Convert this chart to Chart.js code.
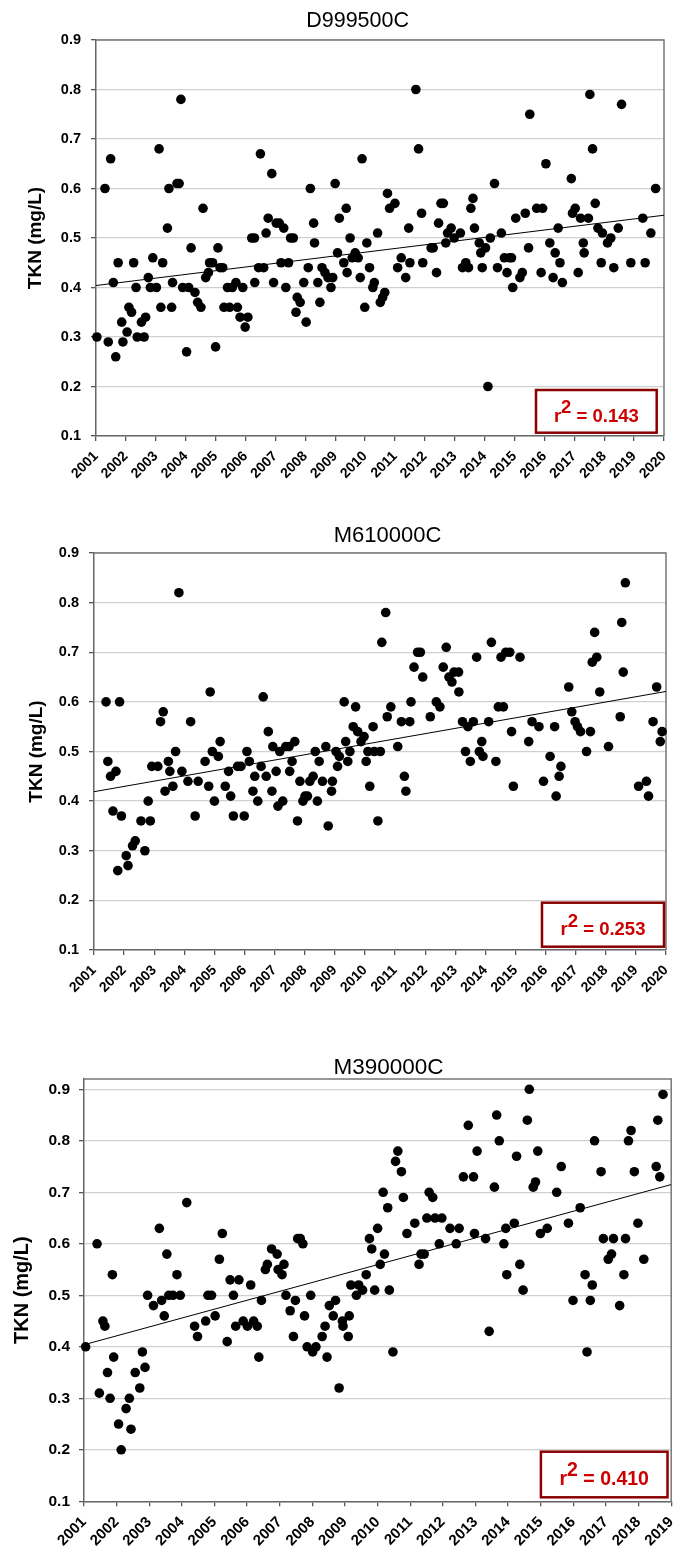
<!DOCTYPE html>
<html>
<head>
<meta charset="utf-8">
<title>TKN trends</title>
<script src="https://cdn.jsdelivr.net/npm/chart.js@4.4.0/dist/chart.umd.min.js"></script>
<style>
    html, body { margin: 0; padding: 0; background: #fff; }
    #page { position: relative; width: 676px; height: 1558px; overflow: hidden; }
    canvas { position: absolute; left: 0; }
</style>
</head>
<body>
<div id="page">
    <canvas id="chartD999" width="676" height="510" style="top:0px"></canvas>
    <canvas id="chartM610" width="676" height="530" style="top:510px"></canvas>
    <canvas id="chartM390" width="676" height="518" style="top:1040px"></canvas>
</div>
<script>
// ===========================
// DATA (decimal year, TKN mg/L)
// ===========================

const tknTicks = [0.1, 0.2, 0.3, 0.4, 0.5, 0.6, 0.7, 0.8, 0.9];
const yearTicks2020 = [2001, 2002, 2003, 2004, 2005, 2006, 2007, 2008, 2009, 2010,
    2011, 2012, 2013, 2014, 2015, 2016, 2017, 2018, 2019, 2020];
const yearTicks2019 = [2001, 2002, 2003, 2004, 2005, 2006, 2007, 2008, 2009, 2010,
    2011, 2012, 2013, 2014, 2015, 2016, 2017, 2018, 2019];

// D999500C
const d999Years = [2001.03, 2001.30, 2001.41, 2001.49, 2001.58, 2001.66, 2001.74, 2001.86, 2001.90,
    2002.04, 2002.10, 2002.19, 2002.26, 2002.34, 2002.38, 2002.52, 2002.61, 2002.66, 2002.75, 2002.82, 2002.90,
    2003.02, 2003.11, 2003.17, 2003.23, 2003.39, 2003.44, 2003.53, 2003.56, 2003.71, 2003.78, 2003.84, 2003.90,
    2004.03, 2004.10, 2004.18, 2004.31, 2004.40, 2004.51, 2004.58, 2004.67, 2004.76, 2004.80, 2004.90,
    2005.00, 2005.08, 2005.15, 2005.24, 2005.28, 2005.40, 2005.47, 2005.56, 2005.68, 2005.73, 2005.82, 2005.91, 2005.99,
    2006.08, 2006.21, 2006.30, 2006.31, 2006.44, 2006.50, 2006.61, 2006.69, 2006.76, 2006.88, 2006.94,
    2007.03, 2007.13, 2007.19, 2007.28, 2007.35, 2007.44, 2007.51, 2007.60, 2007.69, 2007.73, 2007.83, 2007.95,
    2008.03, 2008.10, 2008.17, 2008.28, 2008.31, 2008.42, 2008.49, 2008.56, 2008.66, 2008.76, 2008.86, 2008.92,
    2009.00, 2009.08, 2009.14, 2009.29, 2009.37, 2009.40, 2009.50, 2009.57, 2009.67, 2009.77, 2009.84, 2009.90, 2009.99,
    2010.06, 2010.15, 2010.26, 2010.31, 2010.42, 2010.51, 2010.59, 2010.66, 2010.75, 2010.82,
    2011.00, 2011.09, 2011.21, 2011.36, 2011.46, 2011.50, 2011.70, 2011.79, 2011.89, 2011.93,
    2012.21, 2012.28, 2012.39, 2012.46, 2012.54, 2012.62, 2012.70, 2012.76, 2012.88, 2012.98,
    2013.19, 2013.26, 2013.37, 2013.46, 2013.54, 2013.61, 2013.66, 2013.82, 2013.87, 2013.92,
    2014.03, 2014.11, 2014.19, 2014.33, 2014.43, 2014.56, 2014.66, 2014.75, 2014.83, 2014.90, 2014.94,
    2015.04, 2015.18, 2015.26, 2015.36, 2015.47, 2015.51, 2015.74, 2015.89, 2015.94,
    2016.05, 2016.18, 2016.29, 2016.36, 2016.46, 2016.52, 2016.60, 2016.90, 2016.94,
    2017.03, 2017.13, 2017.21, 2017.30, 2017.33, 2017.47, 2017.52, 2017.61, 2017.70, 2017.79, 2017.90, 2017.94,
    2018.11, 2018.22, 2018.32, 2018.47, 2018.58, 2018.89,
    2019.29, 2019.37, 2019.56, 2019.72];
const d999Tkn = [0.30, 0.60, 0.29, 0.66, 0.41, 0.26, 0.45, 0.33, 0.29,
    0.31, 0.36, 0.35, 0.45, 0.40, 0.30, 0.33, 0.30, 0.34, 0.42, 0.40, 0.46,
    0.40, 0.68, 0.36, 0.45, 0.52, 0.60, 0.36, 0.41, 0.61, 0.61, 0.78, 0.40,
    0.27, 0.40, 0.48, 0.39, 0.37, 0.36, 0.56, 0.42, 0.43, 0.45, 0.45,
    0.28, 0.48, 0.44, 0.44, 0.36, 0.40, 0.36, 0.40, 0.41, 0.36, 0.34, 0.40, 0.32,
    0.34, 0.50, 0.50, 0.41, 0.44, 0.67, 0.44, 0.51, 0.54, 0.63, 0.41,
    0.53, 0.53, 0.45, 0.52, 0.40, 0.45, 0.50, 0.50, 0.35, 0.38, 0.37, 0.41,
    0.33, 0.44, 0.60, 0.53, 0.49, 0.41, 0.37, 0.44, 0.43, 0.42, 0.40, 0.42,
    0.61, 0.47, 0.54, 0.45, 0.56, 0.43, 0.50, 0.46, 0.47, 0.46, 0.42, 0.66, 0.36,
    0.49, 0.44, 0.40, 0.41, 0.51, 0.37, 0.38, 0.39, 0.59, 0.56,
    0.57, 0.44, 0.46, 0.42, 0.52, 0.45, 0.80, 0.68, 0.55, 0.45,
    0.48, 0.48, 0.43, 0.53, 0.57, 0.57, 0.49, 0.51, 0.52, 0.50,
    0.51, 0.44, 0.45, 0.44, 0.56, 0.58, 0.52, 0.49, 0.47, 0.44,
    0.48, 0.20, 0.50, 0.61, 0.44, 0.51, 0.46, 0.43, 0.46, 0.46, 0.40,
    0.54, 0.42, 0.43, 0.55, 0.48, 0.75, 0.56, 0.43, 0.56,
    0.65, 0.49, 0.42, 0.47, 0.52, 0.45, 0.41, 0.62, 0.55,
    0.56, 0.43, 0.54, 0.49, 0.47, 0.54, 0.79, 0.68, 0.57, 0.52, 0.45, 0.51,
    0.49, 0.50, 0.44, 0.52, 0.77, 0.45,
    0.54, 0.45, 0.51, 0.60];
const d999Trend = [0.404, 0.546];
const d999R2 = '0.143';

// M610000C
const m610Years = [2001.40, 2001.46, 2001.55, 2001.63, 2001.73, 2001.79, 2001.85, 2001.91,
    2002.07, 2002.13, 2002.28, 2002.37, 2002.56, 2002.69, 2002.80, 2002.87, 2002.92,
    2003.12, 2003.21, 2003.30, 2003.36, 2003.47, 2003.52, 2003.62, 2003.71, 2003.82, 2003.92,
    2004.12, 2004.21, 2004.36, 2004.46, 2004.69, 2004.81, 2004.86, 2004.93,
    2005.00, 2005.13, 2005.19, 2005.36, 2005.47, 2005.54, 2005.63, 2005.77, 2005.88, 2005.99,
    2006.08, 2006.16, 2006.28, 2006.34, 2006.44, 2006.55, 2006.62, 2006.72, 2006.79, 2006.91, 2006.94,
    2007.05, 2007.11, 2007.17, 2007.27, 2007.37, 2007.48, 2007.50, 2007.58, 2007.67, 2007.76, 2007.84, 2007.94,
    2008.01, 2008.09, 2008.17, 2008.28, 2008.35, 2008.42, 2008.48, 2008.59, 2008.70, 2008.78, 2008.89, 2008.92,
    2009.04, 2009.09, 2009.15, 2009.31, 2009.36, 2009.43, 2009.50, 2009.61, 2009.69, 2009.76, 2009.87, 2009.97,
    2010.04, 2010.10, 2010.16, 2010.27, 2010.31, 2010.43, 2010.51, 2010.56, 2010.69, 2010.74, 2010.86,
    2011.09, 2011.21, 2011.31, 2011.36, 2011.49, 2011.53, 2011.63, 2011.75, 2011.84, 2011.92,
    2012.17, 2012.37, 2012.49, 2012.60, 2012.70, 2012.79, 2012.89, 2012.96,
    2013.11, 2013.12, 2013.24, 2013.34, 2013.42, 2013.50, 2013.60, 2013.71, 2013.80, 2013.88, 2013.92,
    2014.11, 2014.20, 2014.35, 2014.43, 2014.52, 2014.60, 2014.68, 2014.81, 2014.87, 2014.93,
    2015.15, 2015.44, 2015.55, 2015.78, 2015.93,
    2016.15, 2016.30, 2016.35, 2016.45, 2016.51, 2016.77, 2016.87, 2016.98,
    2017.06, 2017.16, 2017.36, 2017.49, 2017.55, 2017.63, 2017.70, 2017.80,
    2018.09, 2018.48, 2018.53, 2018.58, 2018.65,
    2019.09, 2019.35, 2019.42, 2019.57, 2019.69, 2019.81, 2019.87];
const m610Tkn = [0.60, 0.48, 0.45, 0.38, 0.46, 0.26, 0.60, 0.37,
    0.29, 0.27, 0.31, 0.32, 0.36, 0.30, 0.40, 0.36, 0.47,
    0.47, 0.56, 0.58, 0.42, 0.48, 0.46, 0.43, 0.50, 0.82, 0.46,
    0.44, 0.56, 0.37, 0.44, 0.48, 0.43, 0.62, 0.50,
    0.40, 0.49, 0.52, 0.43, 0.46, 0.41, 0.37, 0.47, 0.47, 0.37,
    0.50, 0.48, 0.42, 0.45, 0.40, 0.47, 0.61, 0.45, 0.54, 0.42, 0.51,
    0.46, 0.39, 0.50, 0.40, 0.51, 0.51, 0.46, 0.48, 0.52, 0.36, 0.44, 0.40,
    0.41, 0.41, 0.44, 0.45, 0.50, 0.40, 0.48, 0.44, 0.51, 0.35, 0.42, 0.44,
    0.50, 0.47, 0.49, 0.60, 0.52, 0.48, 0.50, 0.55, 0.59, 0.54, 0.52, 0.53,
    0.48, 0.50, 0.43, 0.55, 0.50, 0.36, 0.50, 0.72, 0.78, 0.57, 0.59,
    0.51, 0.56, 0.45, 0.42, 0.56, 0.60, 0.67, 0.70, 0.70, 0.65,
    0.57, 0.60, 0.59, 0.67, 0.71, 0.65, 0.64, 0.66,
    0.66, 0.62, 0.56, 0.50, 0.55, 0.48, 0.56, 0.69, 0.50, 0.52, 0.49,
    0.56, 0.72, 0.48, 0.59, 0.69, 0.59, 0.70, 0.70, 0.54, 0.43,
    0.69, 0.52, 0.56, 0.55, 0.44,
    0.49, 0.55, 0.41, 0.45, 0.47, 0.63, 0.58, 0.56,
    0.55, 0.54, 0.50, 0.54, 0.68, 0.74, 0.69, 0.62,
    0.51, 0.57, 0.76, 0.66, 0.84,
    0.43, 0.44, 0.41, 0.56, 0.63, 0.52, 0.54];
const m610Trend = [0.419, 0.621];
const m610R2 = '0.253';

// M390000C
const m390Years = [2001.05, 2001.40, 2001.47, 2001.58, 2001.64, 2001.72, 2001.80, 2001.87, 2001.91,
    2002.06, 2002.14, 2002.29, 2002.39, 2002.44, 2002.57, 2002.71, 2002.79, 2002.87, 2002.95,
    2003.13, 2003.31, 2003.38, 2003.46, 2003.54, 2003.60, 2003.73, 2003.85, 2003.95,
    2004.15, 2004.39, 2004.48, 2004.73, 2004.80, 2004.91,
    2005.02, 2005.15, 2005.24, 2005.39, 2005.48, 2005.58, 2005.65, 2005.75, 2005.88,
    2006.01, 2006.11, 2006.20, 2006.31, 2006.36, 2006.44, 2006.56, 2006.62, 2006.75, 2006.92, 2006.95,
    2007.07, 2007.13, 2007.19, 2007.32, 2007.42, 2007.48, 2007.55, 2007.63, 2007.71, 2007.76, 2007.84, 2007.95,
    2008.01, 2008.11, 2008.30, 2008.39, 2008.45, 2008.52, 2008.64, 2008.71, 2008.82, 2008.92, 2008.94,
    2009.10, 2009.13, 2009.18, 2009.35, 2009.42, 2009.54, 2009.65, 2009.75, 2009.82, 2009.91,
    2010.00, 2010.08, 2010.17, 2010.21, 2010.31, 2010.36, 2010.47, 2010.55, 2010.62, 2010.73, 2010.79, 2010.90,
    2011.14, 2011.27, 2011.33, 2011.43, 2011.51, 2011.58, 2011.69, 2011.76, 2011.89, 2011.97,
    2012.22, 2012.41, 2012.50, 2012.63, 2012.78, 2012.94, 2012.97,
    2013.05, 2013.31, 2013.42, 2013.58, 2013.65, 2013.73, 2013.87, 2013.93, 2013.96,
    2014.19, 2014.26, 2014.36, 2014.46, 2014.59, 2014.65, 2014.77, 2014.84, 2014.91, 2014.99,
    2015.20, 2015.49, 2015.63, 2015.85, 2015.99,
    2016.21, 2016.36, 2016.42, 2016.52, 2016.58, 2016.65, 2016.85, 2016.92,
    2017.07, 2017.17, 2017.23, 2017.42, 2017.55, 2017.60, 2017.69, 2017.77, 2017.87, 2017.98,
    2018.16, 2018.54, 2018.59, 2018.65, 2018.75];
const m390Tkn = [0.40, 0.60, 0.31, 0.45, 0.44, 0.35, 0.30, 0.54, 0.38,
    0.25, 0.20, 0.28, 0.30, 0.24, 0.35, 0.32, 0.39, 0.36, 0.50,
    0.48, 0.63, 0.49, 0.46, 0.58, 0.50, 0.50, 0.54, 0.50,
    0.68, 0.44, 0.42, 0.45, 0.50, 0.50,
    0.46, 0.57, 0.62, 0.41, 0.53, 0.50, 0.44, 0.53, 0.45,
    0.44, 0.52, 0.45, 0.44, 0.38, 0.49, 0.55, 0.56, 0.59, 0.58, 0.55,
    0.54, 0.56, 0.50, 0.47, 0.42, 0.49, 0.61, 0.61, 0.60, 0.46, 0.40, 0.50,
    0.39, 0.40, 0.42, 0.44, 0.38, 0.48, 0.46, 0.49, 0.32, 0.45, 0.44,
    0.42, 0.46, 0.52, 0.50, 0.52, 0.51, 0.54, 0.61, 0.59, 0.51,
    0.63, 0.56, 0.70, 0.58, 0.67, 0.51, 0.39, 0.76, 0.78, 0.74, 0.69, 0.62,
    0.64, 0.56, 0.58, 0.58, 0.65, 0.70, 0.69, 0.65, 0.60, 0.65,
    0.63, 0.60, 0.63, 0.73, 0.83, 0.73, 0.62,
    0.78, 0.61, 0.43, 0.71, 0.85, 0.80, 0.60, 0.63, 0.54,
    0.64, 0.77, 0.56, 0.51, 0.84, 0.90, 0.71, 0.72, 0.78, 0.62,
    0.63, 0.70, 0.75, 0.64, 0.49,
    0.67, 0.54, 0.39, 0.49, 0.52, 0.80, 0.74, 0.61,
    0.57, 0.58, 0.61, 0.48, 0.54, 0.61, 0.80, 0.82, 0.74, 0.64,
    0.57, 0.75, 0.84, 0.73, 0.89];
const m390Trend = [0.404, 0.715];
const m390R2 = '0.410';

// ===========================
// PLUGINS
// ===========================

const FONT = '"Liberation Sans", Arial, Helvetica, sans-serif';
Chart.defaults.font.family = FONT;

// Station name over each plot
const headingPlugin = {
    id: 'heading',
    afterDraw(chart, args, opts) {
        const ctx = chart.ctx;
        ctx.save();
        ctx.font = `${opts.size}px ${FONT}`;
        ctx.fillStyle = '#000';
        ctx.textAlign = 'center';
        ctx.textBaseline = 'alphabetic';
        ctx.fillText(opts.text, opts.x, opts.y);
        ctx.restore();
    }
};

// Top and right edge of the plot area
const framePlugin = {
    id: 'frame',
    beforeDatasetsDraw(chart) {
        const { ctx, chartArea } = chart;
        ctx.save();
        ctx.strokeStyle = '#777';
        ctx.lineWidth = 1.5;
        ctx.beginPath();
        ctx.moveTo(chartArea.left, chartArea.top);
        ctx.lineTo(chartArea.right, chartArea.top);
        ctx.lineTo(chartArea.right, chartArea.bottom);
        ctx.stroke();
        ctx.restore();
    }
};

// r² label box in the lower right corner
const r2Plugin = {
    id: 'r2Box',
    afterDraw(chart, args, o) {
        const { ctx, chartArea } = chart;
        const x = chartArea.right - o.right - o.width;
        const y = chartArea.bottom - o.bottom - o.height;
        ctx.save();
        ctx.fillStyle = '#fff';
        ctx.fillRect(x, y, o.width, o.height);
        ctx.strokeStyle = '#8b0000';
        ctx.lineWidth = 2.5;
        ctx.strokeRect(x, y, o.width, o.height);

        ctx.font = `bold ${o.size}px ${FONT}`;
        const wR = ctx.measureText('r').width;
        const wSup = ctx.measureText('2').width;
        const rest = ' = ' + o.value;
        const wRest = ctx.measureText(rest).width;
        const total = wR + wSup + wRest;
        let tx = x + o.width / 2 - total / 2;
        const base = y + o.height - o.baseGap;
        ctx.fillStyle = '#cc0000';
        ctx.textAlign = 'left';
        ctx.textBaseline = 'alphabetic';
        ctx.fillText('r', tx, base);
        tx += wR;
        ctx.fillText('2', tx, base - o.raise);
        tx += wSup;
        ctx.fillText(rest, tx, base);
        ctx.restore();
    }
};

// ===========================
// CHART BUILDER
// ===========================

function renderTknChart(canvasId, s) {
    const points = s.years.map((yr, i) => ({ x: yr, y: s.tkn[i] }));
    const trend = [
        { x: s.xTicks[0], y: s.trend[0] },
        { x: s.xTicks[s.xTicks.length - 1], y: s.trend[1] }
    ];

    const ctx = document.getElementById(canvasId).getContext('2d');
    return new Chart(ctx, {
        type: 'scatter',
        data: {
            datasets: [
                {
                    data: points,
                    pointRadius: 4.8,
                    pointBackgroundColor: '#000',
                    pointBorderWidth: 0,
                    clip: false
                },
                {
                    data: trend,
                    showLine: true,
                    borderColor: '#000',
                    borderWidth: 1,
                    pointRadius: 0
                }
            ]
        },
        options: {
            responsive: false,
            animation: false,
            events: [],
            layout: { padding: { top: s.padTop, right: s.padRight, left: 0, bottom: 0 } },
            plugins: {
                legend: { display: false },
                tooltip: { enabled: false },
                heading: { text: s.title, x: s.titleX, y: s.titleY, size: s.titleSize },
                r2Box: { value: s.r2, right: s.box.right, bottom: s.box.bottom, width: s.box.width,
                         height: s.box.height, size: s.box.size, baseGap: s.box.baseGap, raise: s.box.raise }
            },
            scales: {
                x: {
                    type: 'linear',
                    min: s.xTicks[0],
                    max: s.xTicks[s.xTicks.length - 1],
                    afterBuildTicks: sc => { sc.ticks = s.xTicks.map(v => ({ value: v })); },
                    afterFit: sc => { sc.height = s.xHeight; sc.paddingLeft = 0; sc.paddingRight = 0; },
                    ticks: {
                        autoSkip: false,
                        minRotation: 45,
                        maxRotation: 45,
                        padding: 7,
                        color: '#000',
                        font: { size: s.xFont, weight: 'bold' },
                        callback: v => String(v)
                    },
                    grid: { drawOnChartArea: false, tickColor: '#555', tickLength: 5, lineWidth: 1.3 },
                    border: { color: '#666', width: 1.5 }
                },
                y: {
                    type: 'linear',
                    min: 0.1,
                    max: s.yMax,
                    afterBuildTicks: sc => { sc.ticks = tknTicks.map(v => ({ value: v })); },
                    afterFit: sc => { sc.width = s.yWidth; },
                    ticks: {
                        padding: s.yPad,
                        color: '#000',
                        font: { size: s.yFont, weight: 'bold' },
                        callback: v => v.toFixed(1)
                    },
                    grid: { color: '#d0d0d0', lineWidth: 1.3, tickColor: '#555', tickLength: 5 },
                    border: { color: '#666', width: 1.5 },
                    title: {
                        display: true,
                        text: 'TKN (mg/L)',
                        color: '#000',
                        font: { size: s.yTitleFont, weight: 'bold' },
                        padding: { top: s.yTitlePad, bottom: 0 }
                    }
                }
            }
        },
        plugins: [headingPlugin, framePlugin, r2Plugin]
    });
}

renderTknChart('chartD999', {
    title: 'D999500C', titleX: 357.6, titleY: 27.3, titleSize: 21.5,
    years: d999Years, tkn: d999Tkn, trend: d999Trend, r2: d999R2,
    xTicks: yearTicks2020, yMax: 0.9,
    padTop: 40, padRight: 12, xHeight: 74, yWidth: 96,
    xFont: 14, yFont: 14.5, yPad: 10, yTitleFont: 19, yTitlePad: 24.6,
    box: { right: 7.3, bottom: 3.3, width: 120.7, height: 42.7, size: 18.5, baseGap: 11, raise: 8.6 }
});

renderTknChart('chartM610', {
    title: 'M610000C', titleX: 387.5, titleY: 31.7, titleSize: 22,
    years: m610Years, tkn: m610Tkn, trend: m610Trend, r2: m610R2,
    xTicks: yearTicks2020, yMax: 0.9,
    padTop: 43, padRight: 10, xHeight: 90, yWidth: 94,
    xFont: 14, yFont: 14.5, yPad: 10, yTitleFont: 19, yTitlePad: 25.6,
    box: { right: 2, bottom: 3.3, width: 122, height: 44, size: 18.5, baseGap: 11.5, raise: 8.6 }
});

renderTknChart('chartM390', {
    title: 'M390000C', titleX: 388.5, titleY: 34.3, titleSize: 22.5,
    years: m390Years, tkn: m390Tkn, trend: m390Trend, r2: m390R2,
    xTicks: yearTicks2019, yMax: 0.92,
    padTop: 39, padRight: 0, xHeight: 56.7, yWidth: 84,
    xFont: 15, yFont: 15.5, yPad: 9, yTitleFont: 20, yTitlePad: 10.5,
    box: { right: 3.7, bottom: 4, width: 126.6, height: 45.6, size: 19.5, baseGap: 12, raise: 9 }
});
</script>
</body>
</html>
